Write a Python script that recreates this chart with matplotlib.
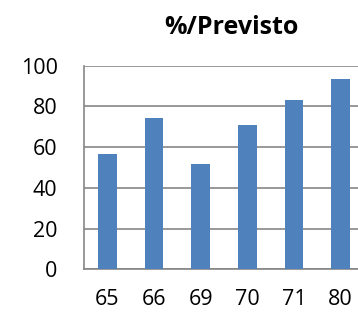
import matplotlib.pyplot as plt

# data
categories = ['65', '66', '69', '70', '71', '80']
values = [56.5, 74.2, 51.6, 70.9, 83.3, 93.3]
y_ticks = [0, 20, 40, 60, 80, 100]

plt.rcParams['font.family'] = ['Open Sans', 'DejaVu Sans']

fig = plt.figure(figsize=(3.58, 3.13), dpi=100)
# plot area runs past the right edge, like the cropped original
ax = fig.add_axes([84 / 358, 43.7 / 313, 280 / 358, 203.6 / 313])

x = range(len(categories))
ax.bar(x, values, width=0.4, color='#4F81BD', zorder=3)

ax.set_xlim(-0.5, len(categories) - 0.5)
ax.set_ylim(0, 100)
ax.set_yticks(y_ticks)
ax.set_xticks(list(x))
ax.set_xticklabels(categories)

ax.yaxis.grid(True, color='#868686', linewidth=1.2, zorder=0)
for side in ['top', 'right']:
    ax.spines[side].set_visible(False)
for side in ['left', 'bottom']:
    ax.spines[side].set_color('#868686')
    ax.spines[side].set_linewidth(1.2)

ax.tick_params(axis='both', length=0, labelsize=15.5, colors='black')
ax.tick_params(axis='y', pad=19)
ax.tick_params(axis='x', pad=14)

fig.text(231 / 358, 1 - 27 / 313, '%/Previsto', ha='center', va='center',
         fontsize=18, fontweight='bold')

fig.savefig('out.png', dpi=100)
